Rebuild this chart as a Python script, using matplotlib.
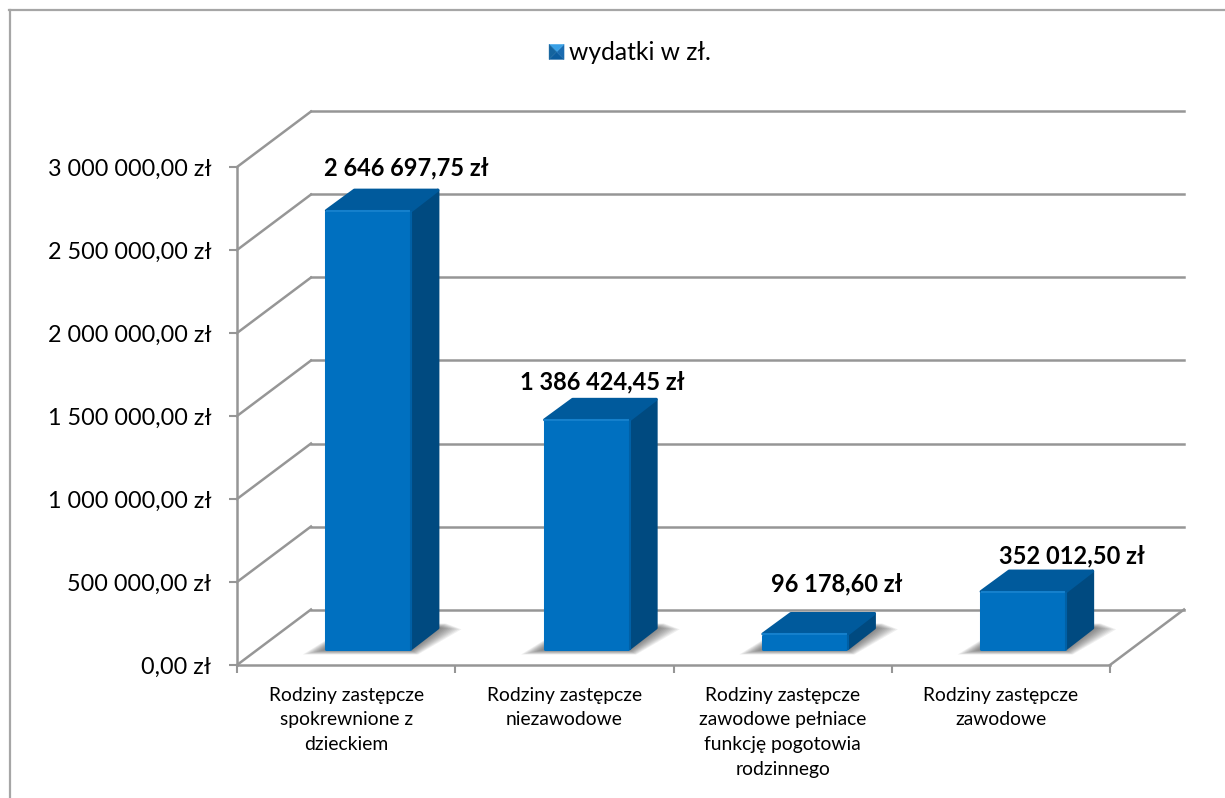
import matplotlib
matplotlib.use('Agg')
import matplotlib.pyplot as plt
from matplotlib.lines import Line2D
from matplotlib.patches import Polygon, Rectangle
from matplotlib.legend_handler import HandlerBase
from matplotlib.ticker import FixedLocator, FuncFormatter

categories = ['Rodziny zastępcze\nspokrewnione z\ndzieckiem',
              'Rodziny zastępcze\nniezawodowe',
              'Rodziny zastępcze\nzawodowe pełniace\nfunkcję pogotowia\nrodzinnego',
              'Rodziny zastępcze\nzawodowe']
values = [2646697.75, 1386424.45, 96178.60, 352012.50]
value_labels = ['2 646 697,75 zł', '1 386 424,45 zł', '96 178,60 zł', '352 012,50 zł']
y_ticks = [0, 500000, 1000000, 1500000, 2000000, 2500000, 3000000]
y_tick_labels = ['0,00 zł', '500 000,00 zł', '1 000 000,00 zł', '1 500 000,00 zł',
                 '2 000 000,00 zł', '2 500 000,00 zł', '3 000 000,00 zł']
series_name = 'wydatki w zł.'

W, H = 1225, 798
GRID = '#969696'
FRONT = '#0070C0'
TOP = '#005A9C'
SIDE = '#004A80'

plt.rcParams['font.family'] = ['Lato', 'DejaVu Sans']

fig = plt.figure(figsize=(W / 100, H / 100), dpi=100)
# plot box in pixels: x 237-1110, y 167-665
ax = fig.add_axes([237 / W, 1 - 665 / H, (1110 - 237) / W, (665 - 167) / H])
ax.set_xlim(0, len(values))
ax.set_ylim(0, y_ticks[-1])
ax.patch.set_visible(False)

px_x = (1110 - 237) / len(values)
px_y = (665 - 167) / y_ticks[-1]
DX = 74 / px_x   # depth of the floor
DY = 55.5 / px_y

# outer frame, only top and left show
fig.add_artist(Line2D([9 / W, 1], [1 - 9.5 / H, 1 - 9.5 / H], color='#A6A6A6', lw=1.6))
fig.add_artist(Line2D([9.5 / W, 9.5 / W], [0, 1 - 9.5 / H], color='#A6A6A6', lw=1.6))

# back wall lines and the slanted ones on the left wall
for v in y_ticks:
    ax.plot([DX, len(values) + DX], [v + DY, v + DY], color=GRID, lw=1.8, clip_on=False, zorder=1)
    ax.plot([0, DX], [v, v + DY], color=GRID, lw=1.8, clip_on=False, zorder=1)
ax.plot([len(values), len(values) + DX], [0, DY], color=GRID, lw=1.8, clip_on=False, zorder=1)

# bars
bar_w = 86.5 / px_x
bar_dx = 28 / px_x
bar_dy = 22 / px_y
base_y = 15 / px_y
ins_x = 1.5 / px_x
ins_y = 1.5 / px_y
label_off = [(38, 21), (16, 16), (32, 28), (49, 14)]

for i, v in enumerate(values):
    x0 = i + 0.5 - bar_w / 2 + 22 / px_x
    x1 = x0 + bar_w
    y0 = base_y
    y1 = base_y + v

    # soft shadow on the floor
    for k in range(10):
        g = (10 - k) * 2.2 / px_x
        h = (10 - k) * 0.45 / px_y
        ax.add_patch(Polygon([(x0 - g, y0 - h), (x1 + g * 0.3, y0 - h),
                              (x1 + bar_dx + g, y0 + bar_dy - h * 0.3), (x1 + bar_dx + g * 0.3, y0 + bar_dy + h),
                              (x0 + bar_dx, y0 + bar_dy + h)],
                             fc='#303030', ec='none', alpha=0.075, clip_on=False, zorder=2))

    ax.add_patch(Polygon([(x1, y0 + ins_y), (x1 + bar_dx - ins_x, y0 + bar_dy), (x1 + bar_dx - ins_x, y1 + bar_dy - ins_y),
                          (x1, y1)],
                         fc=SIDE, ec=SIDE, lw=2.2, joinstyle='round', clip_on=False, zorder=3))
    ax.add_patch(Polygon([(x0 + ins_x, y1), (x1, y1), (x1 + bar_dx - ins_x, y1 + bar_dy - ins_y),
                          (x0 + bar_dx + ins_x, y1 + bar_dy - ins_y)],
                         fc=TOP, ec=TOP, lw=2.2, joinstyle='round', clip_on=False, zorder=3))
    ax.add_patch(Rectangle((x0 + ins_x, y0 + ins_y), bar_w - 2 * ins_x, v - 2 * ins_y, fc=FRONT, ec=FRONT, lw=2.2,
                           joinstyle='round', clip_on=False, zorder=4))
    # lighter bevel along the top and darker edge at the right of the front face
    ax.plot([x0 + 2 / px_x, x1 - 2 / px_x], [y1, y1], color='#1580CC', lw=1.5, clip_on=False, zorder=5)
    ax.plot([x1, x1], [y0 + ins_y, y1 - ins_y], color='#0060A6', lw=1.5, clip_on=False, zorder=5)

    ax.annotate(value_labels[i], xy=((x0 + x1) / 2, y1 + bar_dy),
                xytext=(label_off[i][0] * 0.72, label_off[i][1] * 0.72),
                textcoords='offset points', ha='center', va='center', fontsize=17, fontweight='bold',
                color='black', clip_on=False, zorder=6)

# axes and ticks
for s in ['top', 'right']:
    ax.spines[s].set_visible(False)
for s in ['left', 'bottom']:
    ax.spines[s].set_color(GRID)
    ax.spines[s].set_linewidth(1.8)
    ax.spines[s].set_zorder(1)

ax.yaxis.set_major_locator(FixedLocator(y_ticks))
ax.set_yticklabels(y_tick_labels)
ax.tick_params(axis='y', length=5.5, width=1.5, color=GRID, labelsize=16.8, pad=13)

ax.xaxis.set_major_locator(FixedLocator(range(len(values) + 1)))
ax.xaxis.set_major_formatter(FuncFormatter(lambda x, pos: ''))
ax.xaxis.set_minor_locator(FixedLocator([i + 0.5 for i in range(len(values))]))
ax.set_xticklabels(categories, minor=True, linespacing=1.56)
ax.tick_params(axis='x', which='major', length=5.5, width=1.5, color=GRID)
ax.tick_params(axis='x', which='minor', length=0, labelsize=13.9, pad=15.5)


class BevelKey(HandlerBase):
    def create_artists(self, legend, orig, xd, yd, width, height, fontsize, trans):
        s = 15 * 0.72
        x0 = width - s
        y0 = -yd + (height - s) / 2
        c = (x0 + s / 2, y0 + s / 2)
        a, b, d, e = (x0, y0), (x0 + s, y0), (x0 + s, y0 + s), (x0, y0 + s)
        out = []
        for pts, col in [((a, b, c), '#0B5C9E'), ((b, d, c), '#1A6BB0'),
                         ((d, e, c), '#38A0E6'), ((e, a, c), '#14649F')]:
            out.append(Polygon(pts, fc=col, ec=col, lw=0.3, transform=trans))
        return out


leg = fig.legend([Rectangle((0, 0), 1, 1)], [series_name], handler_map={Rectangle: BevelKey()},
                 loc='center', bbox_to_anchor=(627 / W, 1 - 53 / H), frameon=False, fontsize=17.7,
                 handlelength=0.85, handletextpad=0.2)

fig.savefig('out.png', dpi=100, facecolor='white')
